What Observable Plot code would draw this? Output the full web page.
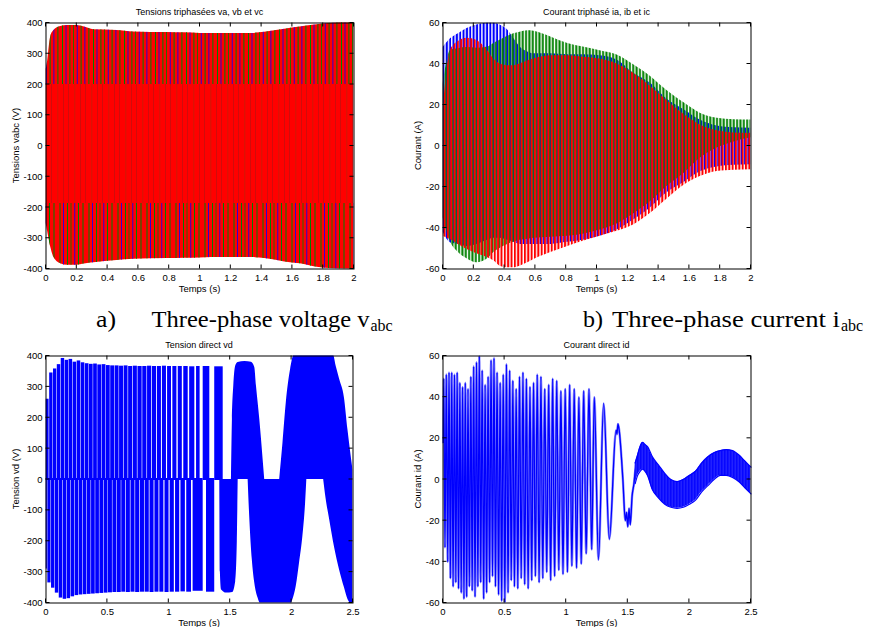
<!DOCTYPE html>
<html><head><meta charset="utf-8">
<script src="https://cdn.jsdelivr.net/npm/d3@7"></script>
<script src="https://cdn.jsdelivr.net/npm/@observablehq/plot@0.6"></script>
<style>
html,body{margin:0;padding:0;background:#fff}
body{width:871px;height:627px;position:relative;overflow:hidden}
.panel{position:absolute}
#caps{position:absolute;left:0;top:0}
</style></head><body>
<svg width="0" height="0" style="position:absolute">
<defs>
 <pattern id="vTop" patternUnits="userSpaceOnUse" width="31" height="10">
   <rect x="0" y="0" width="1" height="10" fill="#008000"/>
   <rect x="3.6" y="0" width="0.8" height="10" fill="#0000ff"/>
   <rect x="7.4" y="0" width="1" height="10" fill="#008000"/>
   <rect x="11.2" y="0" width="0.8" height="10" fill="#008000"/>
   <rect x="14.8" y="0" width="0.8" height="10" fill="#0000ff"/>
   <rect x="18.6" y="0" width="1" height="10" fill="#008000"/>
   <rect x="22.5" y="0" width="0.8" height="10" fill="#0000ff"/>
   <rect x="26.4" y="0" width="1" height="10" fill="#008000"/>
 </pattern>
 <pattern id="vBot" patternUnits="userSpaceOnUse" width="29" height="10">
   <rect x="1.5" y="0" width="1" height="10" fill="#008000"/>
   <rect x="5.2" y="0" width="0.8" height="10" fill="#0000ff"/>
   <rect x="9" y="0" width="1" height="10" fill="#008000"/>
   <rect x="12.6" y="0" width="0.8" height="10" fill="#008000"/>
   <rect x="16.4" y="0" width="0.8" height="10" fill="#0000ff"/>
   <rect x="20" y="0" width="1" height="10" fill="#008000"/>
   <rect x="24.5" y="0" width="1" height="10" fill="#008000"/>
 </pattern>
 <pattern id="vMid" patternUnits="userSpaceOnUse" width="17" height="10">
   <rect x="0" y="0" width="0.7" height="10" fill="#a01818" opacity="0.7"/>
   <rect x="6.5" y="0" width="0.7" height="10" fill="#8a3a10" opacity="0.6"/>
   <rect x="12" y="0" width="0.7" height="10" fill="#a01818" opacity="0.7"/>
 </pattern>
 <pattern id="iaP" patternUnits="userSpaceOnUse" width="3.35" height="10">
   <rect x="2.2" y="0" width="1.15" height="10" fill="#0000ff"/>
   <rect x="0" y="0" width="0.85" height="10" fill="#0000ff"/>
 </pattern>
 <pattern id="ibP" patternUnits="userSpaceOnUse" width="3.35" height="10">
   <rect x="1.1" y="0" width="2" height="10" fill="#008000"/>
 </pattern>
 <pattern id="icP" patternUnits="userSpaceOnUse" width="3.35" height="10">
   <rect x="0" y="0" width="2" height="10" fill="#ff0000"/>
 </pattern>
 <pattern id="idP" patternUnits="userSpaceOnUse" width="1.5" height="10">
   <rect x="0" y="0" width="1.5" height="10" fill="#4a4aff"/>
   <rect x="0" y="0" width="1.1" height="10" fill="#0000ff"/>
 </pattern>
</defs>
</svg>
<div id="pa" class="panel" style="left:0;top:0;width:400px;height:300px"></div>
<div id="pb" class="panel" style="left:400px;top:0;width:400px;height:300px"></div>
<div id="pc" class="panel" style="left:0;top:330px;width:400px;height:297px"></div>
<div id="pd" class="panel" style="left:400px;top:330px;width:400px;height:297px"></div>
<svg id="caps" width="871" height="627" style="pointer-events:none">
  <g font-family="'Liberation Serif','Times New Roman',serif" fill="#000">
    <text x="96" y="327" font-size="23" textLength="20" lengthAdjust="spacingAndGlyphs">a)</text>
    <text x="151.5" y="327" font-size="23" textLength="218" lengthAdjust="spacingAndGlyphs">Three-phase voltage v</text>
    <text x="370.5" y="331" font-size="16">abc</text>
    <text x="583" y="327" font-size="23" textLength="20" lengthAdjust="spacingAndGlyphs">b)</text>
    <text x="612" y="327" font-size="23" textLength="228" lengthAdjust="spacingAndGlyphs">Three-phase current i</text>
    <text x="841" y="331" font-size="16">abc</text>
  </g>
</svg>
<script>
// ---------------- DATA ----------------
// (a) three-phase voltage: envelope of the dense PWM signal
const vTime  = [0, 0.005, 0.03, 0.05, 0.095, 0.14, 0.2, 0.25, 0.31, 0.46, 0.57, 0.79, 0.9, 1.0, 1.15, 1.33, 1.42, 1.55, 1.65, 1.76, 1.87, 2.0];
const vUpper = [250, 257, 354, 375, 389, 392, 392, 387, 378, 376, 371, 369, 368, 366, 366, 366, 370, 380, 387, 394, 400, 405];
const vLower = [-250, -263, -328, -361, -383, -388, -388, -384, -380, -372, -368, -366, -365, -364, -363, -363, -366, -377, -383, -394, -399, -402];
const vInnerHi = 200;
const vInnerLo = -187;

// (b) three-phase currents: upper / lower envelopes
const iTime   = [0, 0.05, 0.1, 0.156, 0.22, 0.29, 0.33, 0.37, 0.42, 0.46, 0.5, 0.55, 0.59, 0.7, 0.81, 0.91, 1.02, 1.13, 1.24, 1.35, 1.45, 1.57, 1.67, 1.78, 1.89, 2.0];
const iaUpper = [48, 52.4, 54.8, 57.3, 59, 60, 60, 59, 56.6, 52.4, 48.3, 45.9, 45, 45, 44.5, 44.5, 44, 42, 35.4, 30.5, 23.2, 17.5, 12.7, 9.8, 8.9, 8.7];
const iaLower = [-42, -47.3, -48, -49, -48, -46, -45, -45, -46, -47, -48, -48, -48, -48, -47, -46, -44, -41, -36, -30, -23, -17.5, -12.6, -10.2, -9.4, -9.2];
const ibUpper = [30, 46.7, 47.5, 48, 47.7, 48.3, 50, 51.6, 53.5, 54.8, 55.5, 56.2, 56, 53.2, 50, 48.3, 46.5, 44.4, 39.5, 33.8, 27.3, 20.8, 16, 13.5, 12.8, 12.7];
const ibLower = [-35, -47, -52, -55, -57, -55, -52, -50, -48, -47, -46, -45.5, -45, -44.5, -44, -43, -41, -38, -33, -27, -20, -13, -6, -1, 2, 4];
const icUpper = [17.5, 47, 51, 52.6, 51.5, 46.5, 42.4, 40, 39.2, 39.2, 40, 41.5, 42.4, 44, 44, 43.3, 42.4, 40, 35.4, 28.9, 22.4, 15.1, 10.3, 7.5, 6.4, 6.2];
const icLower = [-44, -45.7, -48, -50.5, -52.5, -54.5, -56, -58.6, -59.4, -59.4, -58.6, -57, -55.4, -52, -49, -46.5, -44, -41.6, -38.4, -32.7, -26.2, -18.9, -14.9, -12.4, -11.8, -11.6];

// (c) direct voltage vd: PWM pulses [start, end, peak]
const vdTopPulses = [
 [0.000,0.025,260],[0.030,0.057,345],[0.061,0.088,358],[0.092,0.120,372],[0.124,0.152,392],[0.156,0.184,386],
 [0.188,0.217,389],[0.221,0.250,380],[0.254,0.283,384],[0.287,0.316,378],[0.320,0.350,375],[0.354,0.384,373],
 [0.388,0.418,374],[0.422,0.453,371],[0.457,0.488,372],[0.492,0.523,369],[0.527,0.559,368],[0.563,0.595,368],
 [0.599,0.631,367],[0.636,0.668,368],[0.673,0.706,366],[0.711,0.744,367],[0.749,0.783,366],[0.788,0.822,366],
 [0.827,0.861,367],[0.867,0.900,366],[0.907,0.940,366],[0.948,0.981,367],[0.990,1.022,366],[1.033,1.066,366],
 [1.077,1.110,366],[1.122,1.158,366],[1.170,1.212,365],[1.226,1.255,366],[1.280,1.334,366],[1.374,1.443,365]];
const vdBottomPulses = [
 [0.000,0.011,-290],[0.015,0.041,-335],[0.045,0.072,-352],[0.076,0.104,-368],[0.108,0.136,-384],[0.140,0.168,-388],
 [0.172,0.200,-386],[0.204,0.233,-380],[0.237,0.266,-376],[0.270,0.299,-374],[0.303,0.333,-373],[0.337,0.367,-372],
 [0.371,0.401,-371],[0.405,0.435,-370],[0.439,0.470,-369],[0.474,0.505,-368],[0.509,0.541,-367],[0.545,0.577,-366],
 [0.581,0.613,-366],[0.617,0.649,-365],[0.654,0.687,-366],[0.692,0.725,-365],[0.730,0.763,-366],[0.768,0.802,-365],
 [0.807,0.841,-365],[0.847,0.880,-366],[0.887,0.920,-365],[0.927,0.960,-365],[0.969,1.002,-366],[1.011,1.045,-365],
 [1.055,1.089,-365],[1.099,1.135,-364],[1.146,1.185,-365],[1.198,1.280,-362],[1.307,1.374,-365]];
// slow lobes of vd [t, v]
const vdLobe1 = [[1.415,0],[1.420,-300],[1.430,-358],[1.470,-368],[1.520,-366],[1.545,-330],[1.558,-200],[1.565,0]];
const vdLobe2 = [[1.510,0],[1.518,194],[1.529,302],[1.545,368],[1.565,379],[1.620,382],[1.673,380],[1.700,363],[1.714,302],[1.741,194],[1.768,65],[1.781,0]];
const vdLobe3 = [[1.646,0],[1.660,-130],[1.680,-260],[1.700,-335],[1.727,-384],[1.754,-405],[1.984,-405],[2.011,-389],[2.038,-346],[2.065,-270],[2.092,-184],[2.114,-76],[2.124,0]];
const vdLobe4 = [[1.903,0],[1.930,119],[1.957,249],[1.992,357],[2.024,405],[2.337,408],[2.364,365],[2.391,325],[2.430,265],[2.459,160],[2.500,30]];
const vdLobe5 = [[2.261,0],[2.280,-60],[2.310,-130],[2.350,-220],[2.390,-292],[2.430,-350],[2.459,-389],[2.480,-402],[2.500,-406]];

// (d) direct current id: successive extremes [t, v]
const idExtremes = [
 [0.000,18],[0.006,49],[0.016,-33],[0.027,51],[0.038,-40],[0.049,52],[0.060,-48],[0.071,52],[0.082,-52],
 [0.093,51],[0.104,-50],[0.115,52],[0.126,-53],[0.137,47],[0.148,-55],[0.159,45],[0.170,-58],[0.181,47],[0.192,-57],
 [0.203,44],[0.214,-52],[0.226,50],[0.237,-54],[0.249,55],[0.260,-57],[0.272,57],[0.283,-52],[0.295,60],[0.306,-50],
 [0.318,53],[0.330,-58],[0.342,46],[0.354,-55],[0.366,50],[0.378,-50],[0.390,58],[0.402,-47],[0.414,59],[0.426,-52],
 [0.439,52],[0.451,-56],[0.464,47],[0.476,-59],[0.489,51],[0.502,-60],[0.515,56],[0.528,-55],[0.541,53],[0.554,-49],
 [0.567,48],[0.580,-52],[0.594,44],[0.607,-53],[0.621,50],[0.635,-48],[0.649,52],[0.663,-51],[0.677,49],[0.691,-53],
 [0.706,45],[0.720,-49],[0.735,47],[0.750,-47],[0.765,51],[0.780,-50],[0.795,50],[0.810,-48],[0.826,44],[0.842,-45],
 [0.858,46],[0.874,-49],[0.890,49],[0.906,-47],[0.923,48],[0.940,-44],[0.957,43],[0.974,-46],[0.992,44],[1.010,-45],
 [1.028,46],[1.046,-42],[1.065,44],[1.084,-43],[1.103,40],[1.122,-41],[1.142,43],[1.162,-36],[1.185,44],[1.207,-34],
 [1.228,40],[1.262,-39],[1.304,37],[1.350,-29],[1.405,24],[1.412,22],[1.420,27],[1.430,24],[1.460,0],[1.480,-20],
 [1.490,-16],[1.500,-23],[1.510,-14],[1.520,-22],[1.535,-8],[1.550,-2],[1.560,4],[1.570,8]];
// ripple band of id after 1.56 s
const idBandTime  = [1.56, 1.58, 1.60, 1.62, 1.64, 1.66, 1.70, 1.75, 1.80, 1.85, 1.90, 1.95, 2.00, 2.05, 2.10, 2.15, 2.20, 2.25, 2.30, 2.35, 2.40, 2.45, 2.50];
const idBandUpper = [8, 12, 16, 18, 17, 16, 11, 7, 3, 0, -1, 0, 2, 4, 8, 11, 13, 14, 14.5, 14, 12, 9, 6];
const idBandLower = [-2, 2, 4, 5, 4, 2, -5, -9, -12, -13.5, -14, -13.5, -12, -10, -6, -3, 0, 2, 2, 1, -1, -4, -7];

// axes
const xTicksTop = [0, 0.2, 0.4, 0.6, 0.8, 1, 1.2, 1.4, 1.6, 1.8, 2];
const xTicksBottom = [0, 0.5, 1, 1.5, 2, 2.5];
const vTicks = [-400, -300, -200, -100, 0, 100, 200, 300, 400];
const iTicks = [-60, -40, -20, 0, 20, 40, 60];

// ---------------- DRAWING ----------------
const BLUE = "#0000ff", GREEN = "#008000", RED = "#ff0000";
const FONT = '"Liberation Sans", Arial, sans-serif';
const fmt = d => String(Math.round(d * 100) / 100);

function build(id, o) {
  const svg = Plot.plot({
    width: o.W, height: o.H,
    marginLeft: o.ml, marginRight: o.mr, marginTop: o.mt, marginBottom: o.mb,
    style: {fontFamily: FONT, fontSize: "9.5px", background: "transparent", color: "#000", overflow: "visible"},
    x: {domain: o.xDomain},
    y: {domain: o.yDomain},
    marks: [
      ...o.marks,
      Plot.frame({stroke: "#000", strokeWidth: 1}),
      Plot.axisX(o.xTicks, {tickSize: 0, tickPadding: 5, tickFormat: fmt, label: null}),
      Plot.axisY(o.yTicks, {tickSize: 0, tickPadding: 3.5, tickFormat: fmt, label: null})
    ]
  });
  const sx = svg.scale("x"), sy = svg.scale("y");
  const [x0, x1] = sx.range, [y0, y1] = sy.range;
  const s = d3.select(svg);
  const g = s.append("g").attr("stroke", "#000").attr("stroke-width", 1);
  for (const v of o.xTicks) {
    const x = sx.apply(v);
    g.append("line").attr("x1", x).attr("x2", x).attr("y1", y0).attr("y2", y0 - 4);
    g.append("line").attr("x1", x).attr("x2", x).attr("y1", y1).attr("y2", y1 + 4);
  }
  for (const v of o.yTicks) {
    const y = sy.apply(v);
    g.append("line").attr("x1", x0).attr("x2", x0 + 4).attr("y1", y).attr("y2", y);
    g.append("line").attr("x1", x1).attr("x2", x1 - 4).attr("y1", y).attr("y2", y);
  }
  s.append("text").attr("x", (x0 + x1) / 2).attr("y", y1 - 8).attr("text-anchor", "middle")
    .attr("font-size", 9).attr("fill", "#000").text(o.title);
  s.append("text").attr("x", (x0 + x1) / 2).attr("y", y0 + 23.5).attr("text-anchor", "middle")
    .attr("font-size", 9.5).attr("fill", "#000").text("Temps (s)");
  s.append("text").attr("transform", `translate(${x0 - o.ylOff},${(y0 + y1) / 2}) rotate(-90)`)
    .attr("text-anchor", "middle").attr("font-size", 9.5).attr("fill", "#000").text(o.ylabel);
  document.getElementById(id).appendChild(svg);
}

// (a)
const vTable = vTime.map((t, i) => ({t, hi: vUpper[i], lo: vLower[i]}));
build("pa", {
  W: 400, H: 300, ml: 45.5, mr: 46.5, mt: 22.5, mb: 31.5, ylOff: 27,
  xDomain: [0, 2], yDomain: [-400, 400], xTicks: xTicksTop, yTicks: vTicks,
  title: "Tensions triphasées va, vb et vc", ylabel: "Tensions vabc (V)",
  marks: [
    Plot.areaY(vTable, {x: "t", y1: "lo", y2: "hi", fill: RED, curve: "monotone-x", clip: true}),
    Plot.areaY(vTable, {x: "t", y1: vInnerHi, y2: "hi", fill: "url(#vTop)", curve: "monotone-x", clip: true}),
    Plot.areaY(vTable, {x: "t", y1: "lo", y2: vInnerLo, fill: "url(#vBot)", curve: "monotone-x", clip: true}),
    Plot.areaY(vTable, {x: "t", y1: vInnerLo, y2: vInnerHi, fill: "url(#vMid)", curve: "monotone-x", clip: true})
  ]
});

// (b)
const iTable = iTime.map((t, i) => ({t, aH: iaUpper[i], aL: iaLower[i], bH: ibUpper[i], bL: ibLower[i], cH: icUpper[i], cL: icLower[i]}));
build("pb", {
  W: 400, H: 300, ml: 42.5, mr: 49.5, mt: 22.5, mb: 31.5, ylOff: 21.5,
  xDomain: [0, 2], yDomain: [-60, 60], xTicks: xTicksTop, yTicks: iTicks,
  title: "Courant triphasé ia, ib et ic", ylabel: "Courant (A)",
  marks: [
    Plot.areaY(iTable, {x: "t", y1: "aL", y2: "aH", fill: "url(#iaP)", curve: "monotone-x", clip: true}),
    Plot.areaY(iTable, {x: "t", y1: "bL", y2: "bH", fill: "url(#ibP)", curve: "monotone-x", clip: true}),
    Plot.areaY(iTable, {x: "t", y1: "cL", y2: "cH", fill: "url(#icP)", curve: "monotone-x", clip: true})
  ]
});

// (c)
const lobes = [vdLobe1, vdLobe2, vdLobe3, vdLobe4, vdLobe5];
build("pc", {
  W: 400, H: 297, ml: 45.5, mr: 47.5, mt: 25.5, mb: 24.5, ylOff: 27,
  xDomain: [0, 2.5], yDomain: [-400, 400], xTicks: xTicksBottom, yTicks: vTicks,
  title: "Tension direct vd", ylabel: "Tension vd (V)",
  marks: [
    Plot.rect(vdTopPulses, {x1: d => d[0], x2: d => d[1], y1: 0, y2: d => d[2], fill: BLUE, insetBottom: -1, clip: true}),
    Plot.rect(vdBottomPulses, {x1: d => d[0], x2: d => d[1], y1: 0, y2: d => d[2], fill: BLUE, insetTop: -1, clip: true}),
    ...lobes.map(L => Plot.areaY(L, {x: d => d[0], y1: 0, y2: d => d[1], fill: BLUE, curve: "monotone-x", clip: true}))
  ]
});

// (d)
const idBand = idBandTime.map((t, i) => ({t, hi: idBandUpper[i], lo: idBandLower[i]}));
build("pd", {
  W: 400, H: 297, ml: 42.5, mr: 49.5, mt: 25.5, mb: 24.5, ylOff: 21.5,
  xDomain: [0, 2.5], yDomain: [-60, 60], xTicks: xTicksBottom, yTicks: iTicks,
  title: "Courant direct id", ylabel: "Courant id (A)",
  marks: [
    Plot.line(idExtremes, {x: d => d[0], y: d => d[1], stroke: "#8c8cff", strokeWidth: 2.4, curve: "monotone-x", clip: true}),
    Plot.line(idExtremes, {x: d => d[0], y: d => d[1], stroke: BLUE, strokeWidth: 1.3, curve: "monotone-x", clip: true}),
    Plot.areaY(idBand, {x: "t", y1: "lo", y2: "hi", fill: "url(#idP)", curve: "monotone-x", clip: true}),
    Plot.line(idBand, {x: "t", y: "hi", stroke: BLUE, strokeWidth: 1.2, curve: "monotone-x"}),
    Plot.line(idBand, {x: "t", y: "lo", stroke: BLUE, strokeWidth: 1.2, curve: "monotone-x"})
  ]
});
</script>
</body></html>
